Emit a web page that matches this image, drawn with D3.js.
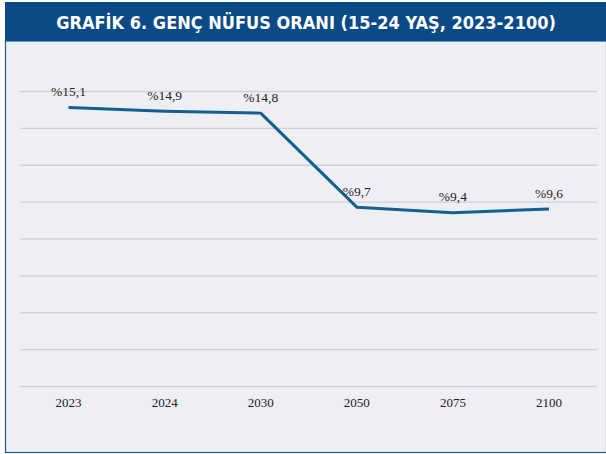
<!DOCTYPE html>
<html>
<head>
<meta charset="utf-8">
<script src="https://cdn.jsdelivr.net/npm/d3@7"></script>
<style>
  html, body { margin: 0; padding: 0; background: #fff; }
</style>
</head>
<body>
<script>
(function() {
  var years = ["2023", "2024", "2030", "2050", "2075", "2100"];
  var values = [15.1, 14.9, 14.8, 9.7, 9.4, 9.6];
  var labels = ["%15,1", "%14,9", "%14,8", "%9,7", "%9,4", "%9,6"];
  var yTicks = [0, 2, 4, 6, 8, 10, 12, 14, 16];
  var title = "GRAFİK 6. GENÇ NÜFUS ORANI (15-24 YAŞ, 2023-2100)";

  var w = 606, h = 454;
  var svg = d3.select("body").append("svg")
    .attr("width", w)
    .attr("height", h);

  // panel + header
  svg.append("rect")
    .attr("x", 5.5).attr("y", 41)
    .attr("width", w - 5).attr("height", 411.5)
    .attr("fill", "#eeeff5")
    .attr("stroke", "#1f5a94")
    .attr("stroke-width", 1.2);
  svg.append("rect")
    .attr("x", 5).attr("y", 2)
    .attr("width", w - 5).attr("height", 39)
    .attr("fill", "#0b4a87");
  var t = svg.append("text")
    .attr("x", 306).attr("y", 29)
    .attr("text-anchor", "middle")
    .attr("font-family", "'DejaVu Sans Condensed', 'Liberation Sans Narrow', 'Open Sans', sans-serif")
    .attr("font-weight", "bold")
    .attr("font-size", "20px")
    .attr("fill", "#fff")
    .text(title);
  // shrink/grow font so the title spans ~500px like the reference
  var len = t.node().getComputedTextLength();
  var fs = Math.min(22, 20 * 500 / len);
  t.attr("font-size", fs + "px");

  var x = d3.scaleBand().domain(years).range([20.5, 597]);
  var y = d3.scaleLinear().domain([0, 16]).range([386, 91]);

  // gridlines
  svg.append("g")
    .attr("transform", "translate(20.5,0)")
    .call(d3.axisLeft(y).tickValues(yTicks).tickSize(-(597 - 20.5)).tickFormat(""))
    .call(function(g) { g.select(".domain").remove(); })
    .selectAll(".tick line")
    .attr("stroke", "#cfd0d6")
    .attr("stroke-width", 1.3);

  // x axis labels
  svg.append("g")
    .attr("transform", "translate(0,386)")
    .call(d3.axisBottom(x).tickSize(0).tickPadding(12))
    .call(function(g) { g.select(".domain").remove(); })
    .selectAll("text")
    .attr("font-family", "'Liberation Serif', 'DejaVu Serif', serif")
    .attr("font-size", "13px")
    .attr("fill", "#222");

  var line = d3.line()
    .x(function(d, i) { return x(years[i]) + x.bandwidth() / 2; })
    .y(function(d) { return y(d); });

  svg.append("path")
    .datum(values)
    .attr("d", line)
    .attr("fill", "none")
    .attr("stroke", "#155f8c")
    .attr("stroke-width", 3)
    .attr("stroke-linejoin", "round");

  // value labels
  svg.selectAll("text.val")
    .data(values)
    .enter().append("text")
    .attr("class", "val")
    .attr("x", function(d, i) { return x(years[i]) + x.bandwidth() / 2; })
    .attr("y", function(d) { return y(d) - 11.5; })
    .attr("text-anchor", "middle")
    .attr("font-family", "'Liberation Serif', 'DejaVu Serif', serif")
    .attr("font-size", "13.5px")
    .attr("fill", "#222")
    .text(function(d, i) { return labels[i]; });
})();
</script>
</body>
</html>
